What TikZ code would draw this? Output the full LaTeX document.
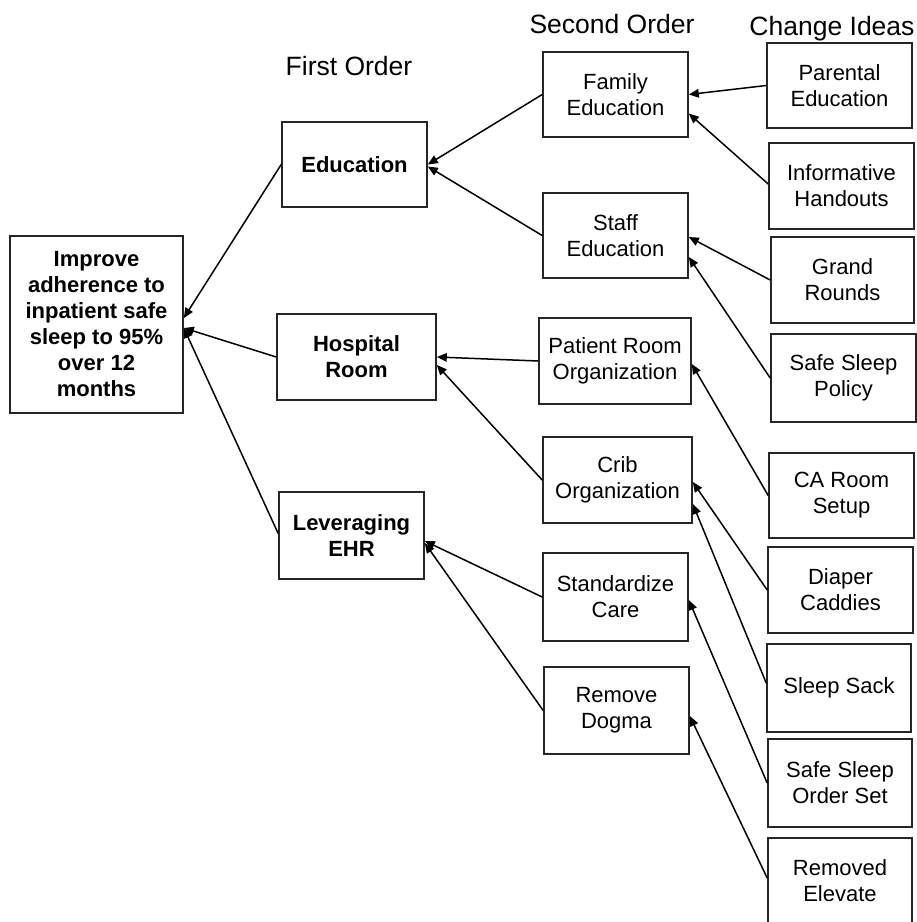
\documentclass[tikz,border=0pt]{standalone}
\usepackage{fontspec}
\setmainfont{Liberation Sans}
\usetikzlibrary{arrows.meta,calc}
\begin{document}
\begin{tikzpicture}[x=1pt,y=-1pt,
  box/.style={draw=black!85, line width=1.6pt, align=center, inner sep=0pt, font=\fontsize{22}{26}\selectfont},
  sz/.style 2 args={minimum width=#1pt, minimum height=#2pt},
  hdr/.style={anchor=base, inner sep=0pt, font=\fontsize{26.5}{30}\selectfont},
  arr/.style={line width=1.5pt, -{Triangle[length=10pt,width=8.5pt]}}]
\useasboundingbox (0,0) rectangle (917,922);
\clip (0,0) rectangle (917,922);

% headers
\node[hdr] (h1) at (349,75) {First Order};
\node[hdr] (h2) at (612,33) {Second Order};
\node[hdr] (h3) at (832,35) {Change Ideas};

% goal
\node[box, sz={173}{177}] (goal) at (96.5,324.5) {\textbf{Improve}\\\textbf{adherence to}\\\textbf{inpatient safe}\\\textbf{sleep to 95\%}\\\textbf{over 12}\\\textbf{months}};

% first order
\node[box, sz={145}{85}] (edu) at (354.5,164.5) {\textbf{Education}};
\node[box, sz={159}{86}] (hosp) at (356.5,357) {\textbf{Hospital}\\\textbf{Room}};
\node[box, sz={145}{87}] (ehr) at (351.5,535.5) {\textbf{Leveraging}\\\textbf{EHR}};

% second order
\node[box, sz={145}{85}] (fam) at (615.5,94.5) {Family\\Education};
\node[box, sz={145}{85}] (staff) at (615.5,235.5) {Staff\\Education};
\node[box, sz={152}{86}] (pro) at (615,361) {Patient Room\\Organization};
\node[box, sz={149}{86}] (crib) at (617.5,480) {Crib\\Organization};
\node[box, sz={145}{88}] (std) at (615.5,597) {Standardize\\Care};
\node[box, sz={145}{87}] (dog) at (616.5,710.5) {Remove\\Dogma};

% change ideas
\node[box, sz={145}{85}] (par) at (839.5,85.5) {Parental\\Education};
\node[box, sz={145}{86}] (inf) at (841.5,186) {Informative\\Handouts};
\node[box, sz={143}{86}] (gr) at (842.5,280) {Grand\\Rounds};
\node[box, sz={145}{88}] (ssp) at (843.5,378) {Safe Sleep\\Policy};
\node[box, sz={145}{85}] (ca) at (841.5,495.5) {CA Room\\Setup};
\node[box, sz={145}{86}] (dia) at (840.5,590) {Diaper\\Caddies};
\node[box, sz={144}{88}] (sack) at (839,688) {Sleep Sack};
\node[box, sz={144}{88}] (sso) at (840,783) {Safe Sleep\\Order Set};
\node[box, sz={144}{86}] (rel) at (840,881) {Removed\\Elevate};

% connectors
\draw[arr] (edu.west) -- ([yshift=6.5pt]goal.east);
\draw[arr] (hosp.west) -- ([yshift=-3.5pt]goal.east);
\draw[arr] ([yshift=2pt]ehr.west) -- ([yshift=-3.5pt]goal.east);

\draw[arr] (fam.west) -- (edu.east);
\draw[arr] (staff.west) -- ([yshift=-2pt]edu.east);
\draw[arr] (pro.west) -- (hosp.east);
\draw[arr] (crib.west) -- ([yshift=-8pt]hosp.east);
\draw[arr] (std.west) -- ([yshift=-5.5pt]ehr.east);
\draw[arr] (dog.west) -- ([yshift=-7.5pt]ehr.east);

\draw[arr] (par.west) -- (fam.east);
\draw[arr] ([yshift=2pt]inf.west) -- ([yshift=-19pt]fam.east);
\draw[arr] (gr.west) -- ([yshift=-1.5pt]staff.east);
\draw[arr] (ssp.west) -- ([yshift=-21.5pt]staff.east);
\draw[arr] (ca.west) -- ([yshift=-3pt]pro.east);
\draw[arr] (dia.west) -- ([yshift=-2pt]crib.east);
\draw[arr] ([yshift=5pt]sack.west) -- ([yshift=-24pt]crib.east);
\draw[arr] (sso.west) -- ([yshift=-3pt]std.east);
\draw[arr] ([yshift=3pt]rel.west) -- ([yshift=-5.5pt]dog.east);
\end{tikzpicture}
\end{document}
